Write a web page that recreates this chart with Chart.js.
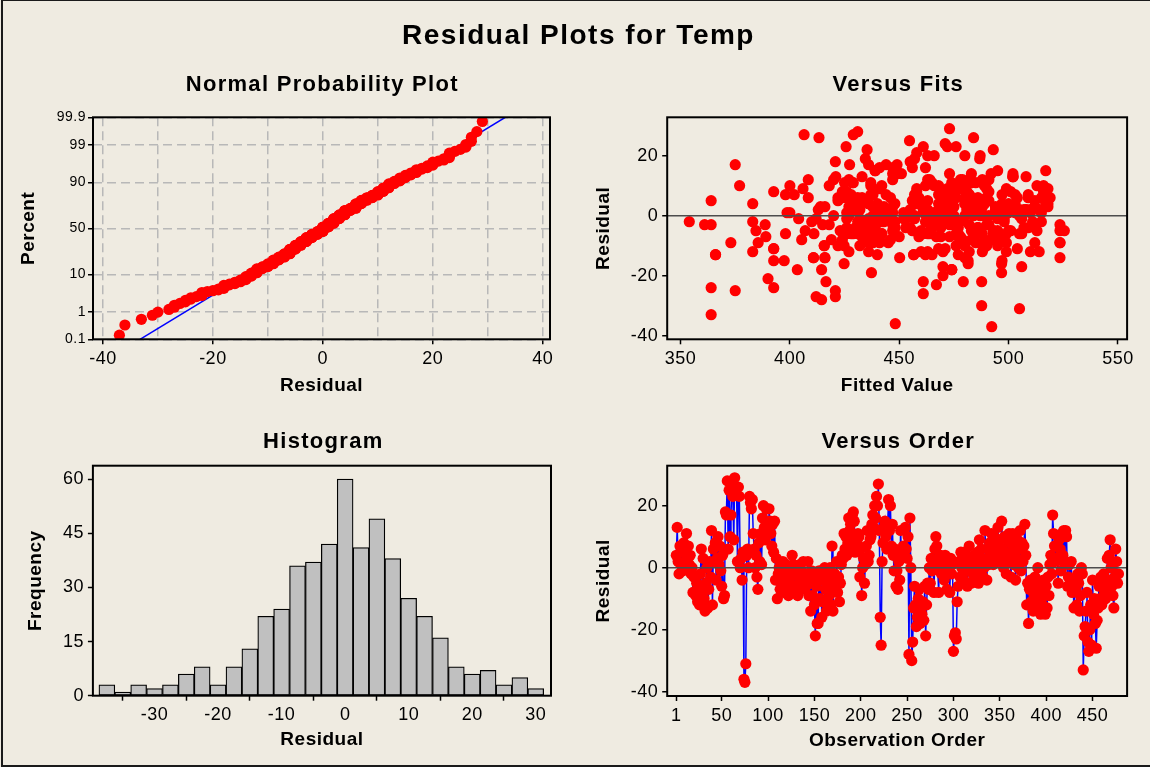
<!DOCTYPE html>
<html>
<head>
<meta charset="utf-8">
<title>Residual Plots for Temp</title>
<script src="https://cdn.jsdelivr.net/npm/chart.js@4.4.0/dist/chart.umd.min.js"></script>
<style>
  html, body { margin: 0; padding: 0; background: #efebe1; }
  #page { position: relative; width: 1150px; height: 767px; overflow: hidden; background: #efebe1;
          font-family: 'Liberation Sans', Arial, sans-serif; }
  #page .outline { position: absolute; left: 1px; top: 0; width: 1149px; height: 767px; box-sizing: border-box;
          border-top: 1px solid #1a1a1a; border-left: 2px solid #1a1a1a; border-bottom: 2px solid #1a1a1a; }
  #page canvas { position: absolute; left: 0; top: 0; }
  .ttl { position: absolute; width: 500px; text-align: center; font-weight: bold; color: #000; white-space: nowrap; }
  .main { font-size: 28px; line-height: 28px; letter-spacing: 1.5px; padding-left: 1.5px; }
  .sub { font-size: 22px; line-height: 22px; letter-spacing: 1.3px; padding-left: 1.3px; }
</style>
</head>
<body>
<div id="page">
  <div class="outline"></div>
  <canvas id="npp" width="1150" height="767"></canvas>
  <canvas id="fits" width="1150" height="767"></canvas>
  <canvas id="hist" width="1150" height="767"></canvas>
  <canvas id="order" width="1150" height="767"></canvas>
  <div class="ttl main" style="left:327px; top:21px;">Residual Plots for Temp</div>
  <div class="ttl sub" style="left:71px; top:73px;">Normal Probability Plot</div>
  <div class="ttl sub" style="left:647px; top:73px;">Versus Fits</div>
  <div class="ttl sub" style="left:72px; top:430px;">Histogram</div>
  <div class="ttl sub" style="left:647px; top:430px;">Versus Order</div>
</div>
<script>
// Residuals in observation order (model for Temp)
const residuals = [
  4, 13, 2, -2, 7, 1, 5, -1, 8, 0,
  6, 11, 3, 7, 1, 4, -2, 0, -8, -3,
  -3, -9, -5, -11, -6, -12, -2, 6, -8, 3,
  -10, -14, -5, 0, -13, -7, 2, -3, 12, -12,
  6, 2, 8, -4, 3, 10, 1, 7, -1, -6,
  4, -10, -9, 18, 17, 28, 6, 25, 10, 17,
  27, 23, 9, 29, 24, 26, 2, 26, 23, 0,
  3, -4, 5, -36, -37, -31, 4, 6, 0, 23,
  21, 19, 22, 11, 6, 0, 4, -3, -7, 8,
  2, 11, 1, 16, 20, 13, 9, 19, 14, 12,
  19, 15, 11, 7, 14, 5, 15, -4, 3, -10,
  -2, 0, -7, -1, -5, 2, -8, -3, 1, -6,
  0, -9, -4, -1, -7, 4, 1, -6, -2, -6,
  0, -9, -3, 1, -5, -1, -7, 2, -4, -2,
  -6, -3, 2, -9, -5, -14, -1, -9, -3, -12,
  -22, -6, -18, -18, -1, -10, -4, -16, -11, -2,
  0, -7, -14, -5, -3, -9, 0, -12, 7, -14,
  -6, -2, -4, 2, -8, -3, -11, -5, 1, 4,
  3, 11, 6, 10, 4, 8, 16, 12, 14, 6,
  17, 18, 15, 5, 10, 8, 11, 10, -3, 6,
  -9, 0, 3, -5, 1, 7, 12, 2, 4, 9,
  10, 14, 17, 13, 20, 16, 23, 20, 27, 12,
  -16, -25, 2, 8, 13, 15, 10, 6, 14, 22,
  12, 20, 7, 14, 4, -1, 6, -6, -1, -7,
  2, -4, 12, 3, 5, 7, 4, 13, 6, 3,
  10, -28, 16, 0, -30, -24, -13, -6, -12, -19,
  -16, -10, -7, -18, -13, -15, -11, -17, -6, -22,
  -12, -5, -7, 0, -5, 3, -1, 1, -8, 6,
  10, 7, 0, -8, 2, 4, -2, 1, 3, -4,
  4, 0, -7, 2, -1, -8, 3, -2, 1, -27,
  -22, -21, -23, -11, -6, 2, -3, 5, 0, 3,
  -4, 5, -1, 2, -6, 1, 7, 0, -5, 3,
  -2, 4, -4, 2, -1, 5, -5, 9, 1, 6,
  3, -3, 0, 12, 2, -4, 6, 1, 8, 4,
  11, 6, 1, 10, 4, 8, 2, 13, 5, 9,
  3, 15, 6, 0, 10, 4, -2, 9, 2, 11,
  8, -3, 5, 11, 1, 7, -4, 3, 9, 0,
  6, 12, -1, 8, 2, 7, 14, 4, -12, -5,
  -18, -7, -4, -11, -6, -14, -9, -3, -13, -7,
  0, -10, -5, -15, -8, -12, -4, -9, -15, -6,
  -13, -3, -9, 1, 4, -2, 17, 11, 7, 2,
  7, 3, -5, 9, 6, -1, 11, 4, 12, 1,
  12, 10, -6, -3, 1, -5, 2, -8, -6, -13,
  -4, -7, -12, -2, -5, -14, -9, 0, -2, -33,
  -22, -19, -14, -8, -24, -27, -20, -12, -25, -4,
  -15, -10, -18, -26, -17, -13, -6, -10, -3, -12,
  -3, -2, -8, -10, -6, 3, -4, 4, 9, 0,
  -6, -9, -13, -3, 6, 2, -5, -2
];

// Fitted values, same observation order
const fittedValues = [
  468, 502, 455, 354, 482, 398.7, 364, 404, 392.6, 420,
  476, 428.6, 416, 398, 400, 383, 410, 491, 405.4, 388.7,
  361, 373, 384.5, 392.6, 411, 463, 383, 408.4, 419, 414,
  415.7, 416, 423, 472, 366, 389, 486, 364, 408.4, 383,
  459, 413, 481, 448, 494, 377, 470, 402, 465, 398,
  488, 424.8, 385.5, 420.8, 375, 431, 422, 454.7, 400, 427.3,
  429, 425.7, 478, 473, 471, 484, 510, 413.3, 476, 457,
  427, 453, 512, 448.2, 492.3, 505, 436, 519, 443, 461,
  458, 434.5, 493, 474, 446, 489, 500, 418, 477, 424,
  432, 483, 426, 462, 480, 508, 441, 486.8, 451, 420,
  457, 517, 437, 428, 502, 456, 439, 509, 471, 422,
  498, 438, 484, 412, 407, 444, 492, 415, 464, 433,
  487, 436, 512, 453, 478, 497, 445, 506, 442, 461,
  439, 488, 473, 515, 447, 495, 450, 481, 432, 511,
  429, 523.5, 469, 441, 501, 410.8, 426, 489, 434, 514,
  461, 431, 403.4, 414.5, 437, 480, 426, 424.8, 468, 448,
  427, 459, 450.2, 525.5, 432, 512, 444, 470, 437, 523.5,
  464, 441, 455, 507, 483, 436, 488.5, 460, 452, 517,
  438, 465, 518, 516, 429, 458, 441, 482, 449, 424,
  436, 455, 448, 486, 418, 501, 425, 489, 433, 509,
  523.5, 443, 498, 456, 484, 438, 463, 508, 480, 490,
  442, 483, 444, 433, 463, 456, 472, 487, 406.5, 427,
  496.8, 375, 430, 474, 502, 439, 513, 426, 447, 435.3,
  488, 466, 497, 473, 440, 506, 433, 477, 446, 495,
  428, 469, 491, 447, 434, 509, 458, 421, 486, 512,
  476, 414.5, 447, 468, 487.7, 392.6, 456.6, 499, 482, 437.3,
  481.5, 490, 473, 474, 462, 397.4, 504, 470, 485, 479.3,
  460, 493, 439, 465, 500, 443, 457, 510, 435, 490,
  468, 503, 475, 441, 496, 480, 431, 466, 512, 448,
  432, 489, 467, 505, 452, 424, 484, 515, 462, 412,
  487.7, 390, 467, 392.6, 476, 508, 437, 491, 444, 471,
  486, 434, 497, 474, 442, 500, 482, 453, 493, 438,
  469, 448, 507, 463, 436, 472, 495, 458, 485, 504,
  475, 490, 445, 478, 514, 439, 483, 496, 470, 487,
  429, 480, 503, 437, 459, 491, 446, 502, 422, 518,
  518, 495, 471, 441, 462, 489, 435, 499, 468, 481,
  516, 474, 463, 488, 447, 457, 486, 440, 479, 505,
  431, 464, 498, 426, 481, 444, 492, 460, 436, 513,
  474, 433, 486, 471, 505, 480, 445, 491, 477, 469,
  484, 495, 437, 392.6, 479, 488, 465, 523.5, 497, 442,
  366, 482, 499, 467, 436, 476, 449, 485, 472, 494,
  468, 481, 464, 406, 490, 432, 483, 518, 447, 486,
  479, 466, 493, 439, 461, 483, 502, 446, 488, 465,
  430, 496, 427, 469, 523.5, 416, 438, 473, 462, 364,
  416.5, 496.8, 410.8, 489, 364, 420.8, 470, 499, 420.8, 477,
  481.5, 432, 474, 461, 506, 456.6, 428, 415.7, 447, 510,
  467, 443, 498, 476, 463, 488, 434, 503, 472, 480,
  426, 485, 440, 469, 515, 461, 433, 478
];

// Histogram of residuals: bin midpoints (width 2.5) and frequencies
const binMidpoints = [-37.5, -35, -32.5, -30, -27.5, -25, -22.5, -20, -17.5, -15, -12.5, -10, -7.5, -5,
                      -2.5, 0, 2.5, 5, 7.5, 10, 12.5, 15, 17.5, 20, 22.5, 25, 27.5, 30];
const binCounts = [3, 1, 3, 2, 3, 6, 8, 3, 8, 13, 22, 24, 36, 37,
                   42, 60, 41, 49, 38, 27, 22, 16, 8, 6, 7, 3, 5, 2];

// Tick values
const percentTicks = [0.1, 1, 10, 50, 90, 99, 99.9];
const nppResidualTicks = [-40, -30, -20, -10, 0, 10, 20, 30, 40];
const fitTicks = [350, 400, 450, 500, 550];
const residualTicks = [-40, -20, 0, 20];
const histResidualTicks = [-30, -20, -10, 0, 10, 20, 30];
const frequencyTicks = [0, 15, 30, 45, 60];
const orderTicks = [1, 50, 100, 150, 200, 250, 300, 350, 400, 450];

// Inverse standard normal CDF (Acklam's rational approximation)
function normInv(p) {
  const a = [-3.969683028665376e+01, 2.209460984245205e+02, -2.759285104469687e+02,
             1.383577518672690e+02, -3.066479806614716e+01, 2.506628277459239e+00];
  const b = [-5.447609879822406e+01, 1.615858368580409e+02, -1.556989798598866e+02,
             6.680131188771972e+01, -1.328068155288572e+01];
  const c = [-7.784894002430293e-03, -3.223964580411365e-01, -2.400758277161838e+00,
             -2.549732539343734e+00, 4.374664141464968e+00, 2.938163982698783e+00];
  const d = [7.784695709041462e-03, 3.224671290700398e-01, 2.445134137142996e+00, 3.754408661907416e+00];
  const lo = 0.02425, hi = 1 - lo;
  let q, r;
  if (p < lo) {
    q = Math.sqrt(-2 * Math.log(p));
    return (((((c[0]*q+c[1])*q+c[2])*q+c[3])*q+c[4])*q+c[5]) / ((((d[0]*q+d[1])*q+d[2])*q+d[3])*q+1);
  }
  if (p > hi) {
    q = Math.sqrt(-2 * Math.log(1 - p));
    return -(((((c[0]*q+c[1])*q+c[2])*q+c[3])*q+c[4])*q+c[5]) / ((((d[0]*q+d[1])*q+d[2])*q+d[3])*q+1);
  }
  q = p - 0.5; r = q * q;
  return (((((a[0]*r+a[1])*r+a[2])*r+a[3])*r+a[4])*r+a[5])*q / (((((b[0]*r+b[1])*r+b[2])*r+b[3])*r+b[4])*r+1);
}

// Normal probability plot: median ranks of the sorted residuals on a probit axis
const n = residuals.length;
const sortedRes = residuals.slice().sort((a, b) => a - b);
const nppPoints = sortedRes.map((v, i) => ({ x: v, y: normInv((i + 1 - 0.3) / (n + 0.4)) }));
const mean = residuals.reduce((s, v) => s + v, 0) / n;
const sd = Math.sqrt(residuals.reduce((s, v) => s + (v - mean) * (v - mean), 0) / (n - 1));
const zLo = normInv(0.001), zHi = normInv(0.999);
const nppLine = [{ x: mean + zLo * sd, y: zLo }, { x: mean + zHi * sd, y: zHi }];

const fitPoints = residuals.map((r, i) => ({ x: fittedValues[i], y: r }));
const orderPoints = residuals.map((r, i) => ({ x: i + 1, y: r }));
const histBars = binMidpoints.map((m, i) => ({ x: m, y: binCounts[i] }));

// ---- shared styling ----
Chart.defaults.font.family = "'Liberation Sans', Arial, sans-serif";
Chart.defaults.color = '#000';
Chart.defaults.animation = false;
Chart.defaults.events = [];
Chart.defaults.plugins.legend.display = false;
Chart.defaults.plugins.tooltip.enabled = false;

const W = 1150, H = 767;
const DOT = 5.6;

// slightly spaced lettering for all canvas text
const spacedText = {
  id: 'spacedText',
  beforeDraw(chart) { chart.ctx.letterSpacing = '0.5px'; }
};

// black box around each plot area
const plotFrame = {
  id: 'plotFrame',
  afterDraw(chart) {
    const { ctx, chartArea: a } = chart;
    ctx.save();
    ctx.strokeStyle = '#000';
    ctx.lineWidth = 2;
    ctx.strokeRect(a.left, a.top, a.right - a.left, a.bottom - a.top);
    ctx.restore();
  }
};

function padFor(area, yWidth, xHeight) {
  return { left: area.left - yWidth, top: area.top, right: W - area.right, bottom: H - area.bottom - xHeight };
}

function fixedTicks(values) {
  return scale => { scale.ticks = values.map(v => ({ value: v })); };
}

const titleFont = { size: 19, weight: 'bold' };

function xAxis(o) {
  return {
    type: 'linear', position: 'bottom', min: o.min, max: o.max, offset: false,
    afterBuildTicks: fixedTicks(o.ticks),
    afterFit: s => { s.height = o.height; },
    ticks: { autoSkip: false, maxRotation: 0, padding: 4, font: { size: 18 }, callback: o.label || (v => String(v)) },
    grid: Object.assign({ drawOnChartArea: false, tickLength: 5, tickWidth: 1.5, tickColor: '#000' }, o.grid || {}),
    border: Object.assign({ display: false }, o.border || {}),
    title: { display: true, text: o.title, padding: 0, font: titleFont }
  };
}

function yAxis(o) {
  return {
    type: 'linear', position: 'left', min: o.min, max: o.max,
    afterBuildTicks: fixedTicks(o.ticks),
    afterFit: s => { s.width = o.width; },
    ticks: { autoSkip: false, padding: o.pad || 4, font: { size: o.size || 18 }, callback: o.label || (v => String(v)) },
    grid: Object.assign({ drawOnChartArea: false, tickLength: 5, tickWidth: 1.5, tickColor: '#000' }, o.grid || {}),
    border: Object.assign({ display: false }, o.border || {}),
    title: { display: true, text: o.title, padding: 0, font: titleFont }
  };
}

const zeroLine = {
  drawOnChartArea: true, z: 1, lineWidth: 1.5,
  color: c => (c.tick && c.tick.value === 0 ? '#4d4d4d' : 'rgba(0,0,0,0)')
};

// plot-area boxes of the four panels
const nppArea = { left: 93, top: 117.3, right: 550, bottom: 339.3 };
const fitsArea = { left: 667.2, top: 117.3, right: 1127.1, bottom: 339.3 };
const histArea = { left: 92.9, top: 465.7, right: 551, bottom: 695.7 };
const orderArea = { left: 667.2, top: 465.7, right: 1127.1, bottom: 696 };

// ---- Normal Probability Plot ----
new Chart(document.getElementById('npp'), {
  type: 'scatter',
  data: {
    datasets: [
      { data: nppLine, showLine: true, borderColor: '#0000ff', borderWidth: 1.5, pointRadius: 0, order: 2 },
      { data: nppPoints, pointRadius: DOT, pointBackgroundColor: '#ff0000', pointBorderWidth: 0, order: 1 }
    ]
  },
  options: {
    responsive: false,
    layout: { padding: padFor(nppArea, 75.8, 57.5) },
    scales: {
      x: xAxis({
        min: -41.8, max: 41.3, ticks: nppResidualTicks, height: 57.5, title: 'Residual',
        label: v => (v % 20 === 0 ? String(v) : ''),
        grid: { drawOnChartArea: true, color: '#b8b8b8', lineWidth: 1.5,
                tickColor: c => (c.tick && c.tick.value % 20 === 0 ? '#000' : 'rgba(0,0,0,0)') },
        border: { dash: [9, 5] }
      }),
      y: yAxis({
        min: normInv(0.001), max: normInv(0.999), ticks: percentTicks.map(p => normInv(p / 100)),
        width: 75.8, size: 14, pad: 2, title: 'Percent',
        label: (v, i) => String(percentTicks[i]),
        grid: { drawOnChartArea: true, color: '#b8b8b8', lineWidth: 1.5 },
        border: { dash: [9, 5] }
      })
    }
  },
  plugins: [spacedText, plotFrame]
});

// ---- Versus Fits ----
new Chart(document.getElementById('fits'), {
  type: 'scatter',
  data: { datasets: [{ data: fitPoints, pointRadius: DOT, pointBackgroundColor: '#ff0000', pointBorderWidth: 0 }] },
  options: {
    responsive: false,
    layout: { padding: padFor(fitsArea, 75, 57.5) },
    scales: {
      x: xAxis({ min: 343.9, max: 554.2, ticks: fitTicks, height: 57.5, title: 'Fitted Value' }),
      y: yAxis({ min: -41.2, max: 32.8, ticks: residualTicks, width: 75, title: 'Residual', grid: zeroLine })
    }
  },
  plugins: [spacedText, plotFrame]
});

// ---- Histogram ----
new Chart(document.getElementById('hist'), {
  type: 'bar',
  data: {
    datasets: [{
      data: histBars, backgroundColor: '#c0c0c0', borderColor: '#000', borderWidth: 1.25,
      borderSkipped: false, barPercentage: 1, categoryPercentage: 1
    }]
  },
  options: {
    responsive: false,
    layout: { padding: padFor(histArea, 68.6, 55.8) },
    scales: {
      x: xAxis({ min: -39.7, max: 32.4, ticks: histResidualTicks, height: 55.8, title: 'Residual' }),
      y: yAxis({ min: 0, max: 63.7, ticks: frequencyTicks, width: 68.6, title: 'Frequency' })
    }
  },
  plugins: [spacedText, plotFrame]
});

// ---- Versus Order ----
new Chart(document.getElementById('order'), {
  type: 'scatter',
  data: {
    datasets: [{
      data: orderPoints, showLine: true, borderColor: '#0000ff', borderWidth: 1.5,
      pointRadius: DOT, pointBackgroundColor: '#ff0000', pointBorderWidth: 0
    }]
  },
  options: {
    responsive: false,
    layout: { padding: padFor(orderArea, 75, 55.8) },
    scales: {
      x: xAxis({ min: -8.8, max: 487.3, ticks: orderTicks, height: 55.8, title: 'Observation Order' }),
      y: yAxis({ min: -41.4, max: 32.9, ticks: residualTicks, width: 75, title: 'Residual', grid: zeroLine })
    }
  },
  plugins: [spacedText, plotFrame]
});
</script>
</body>
</html>
